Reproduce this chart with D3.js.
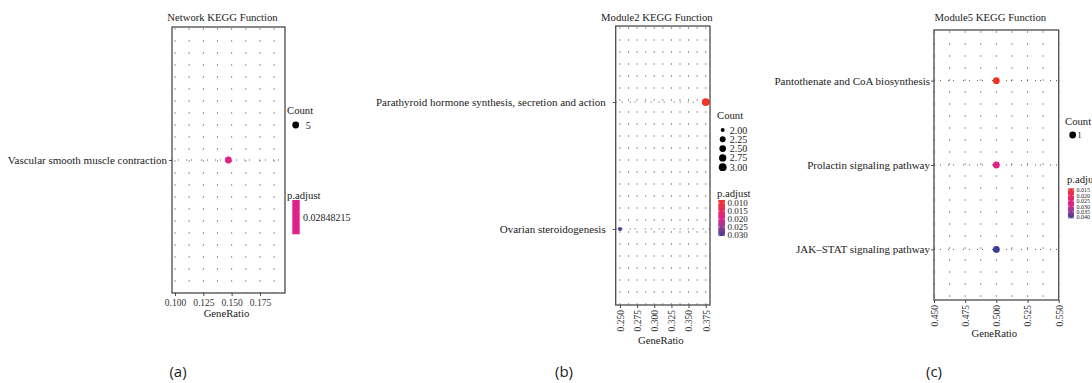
<!DOCTYPE html>
<html><head><meta charset="utf-8">
<script src="https://cdn.jsdelivr.net/npm/d3@7"></script>
<style>html,body{margin:0;padding:0;background:#fff;}svg{display:block;}</style>
</head><body>
<svg id="chart" width="1092" height="383"></svg>
<script>
// ---------- DATA ----------
const panelTitles = ["Network KEGG Function", "Module2 KEGG Function", "Module5 KEGG Function"];
const panelLetters = ["(a)", "(b)", "(c)"];

const aTerms = ["Vascular smooth muscle contraction"];
const aGeneRatio = [0.1471];
const aCount = [5];
const aPadjust = [0.02848215];
const aTicks = [0.100, 0.125, 0.150, 0.175];
const aCountLegend = [5];
const aPadjustLegend = [0.02848215];

const bTerms = ["Ovarian steroidogenesis", "Parathyroid hormone synthesis, secretion and action"];
const bGeneRatio = [0.250, 0.375];
const bCount = [2, 3];
const bPadjust = [0.0306, 0.0081];
const bTicks = [0.250, 0.275, 0.300, 0.325, 0.350, 0.375];
const bCountLegend = [2.00, 2.25, 2.50, 2.75, 3.00];
const bPadjustLegend = [0.010, 0.015, 0.020, 0.025, 0.030];

const cTerms = ["JAK\u2013STAT signaling pathway", "Prolactin signaling pathway", "Pantothenate and CoA biosynthesis"];
const cGeneRatio = [0.500, 0.500, 0.500];
const cCount = [1, 1, 1];
const cPadjust = [0.0409, 0.0262, 0.0134];
const cTicks = [0.450, 0.475, 0.500, 0.525, 0.550];
const cCountLegend = [1];
const cPadjustLegend = [0.015, 0.020, 0.025, 0.030, 0.035, 0.040];

// ---------- STYLE / LAYOUT ----------
const SERIF = "'Liberation Serif','Times New Roman',serif";
const SANS = "'Open Sans','Noto Sans',sans-serif";
const colLow = "#EE3524", colMid = "#E0218A", colHigh = "#3C3B97";
const svg = d3.select("#chart");

const panels = [
  { terms: aTerms, ratio: aGeneRatio, count: aCount, padj: aPadjust, ticks: aTicks,
    countLegend: aCountLegend, padjLegend: aPadjustLegend, title: panelTitles[0], letter: panelLetters[0],
    box: {x0: 172, x1: 285, y0: 27, y1: 293}, xdom: [0.09735, 0.1971], rotate: false,
    labelGap: 5, letterX: 178, xTitleY: 317,
    leg: {x: 287, countY: 114, dotY: 125, dotX: 295.7, padjY: 198.5, barX: 292.3, barW: 7.4, barY0: 200, barY1: 234.3, labFont: 10, labX: 303} },
  { terms: bTerms, ratio: bGeneRatio, count: bCount, padj: bPadjust, ticks: bTicks,
    countLegend: bCountLegend, padjLegend: bPadjustLegend, title: panelTitles[1], letter: panelLetters[1],
    box: {x0: 615.7, x1: 710, y0: 26, y1: 305}, xdom: [0.24375, 0.38125], rotate: true,
    labelGap: 10, letterX: 564, xTitleY: 344,
    leg: {x: 717, countY: 118.5, dotY: 130, dotX: 722.7, dotStep: 9.3, padjY: 196.5, barX: 718.3, barW: 6.7, barY0: 200, barY1: 236, labFont: 9, labX: 727.5} },
  { terms: cTerms, ratio: cGeneRatio, count: cCount, padj: cPadjust, ticks: cTicks,
    countLegend: cCountLegend, padjLegend: cPadjustLegend, title: panelTitles[2], letter: panelLetters[2],
    box: {x0: 934, x1: 1058.7, y0: 30, y1: 300}, xdom: [0.45, 0.55], rotate: true,
    labelGap: 4, letterX: 934, xTitleY: 337,
    leg: {x: 1065, countY: 125, dotY: 135, dotX: 1072.7, padjY: 182.5, barX: 1068, barW: 6, barY0: 188.3, barY1: 218.3, labFont: 6, labX: 1076.5} }
];

function colorScale(dom) {
  if (dom[0] === dom[1]) return () => colMid;
  return d3.scaleLinear().domain([dom[0], (dom[0] + dom[1]) / 2, dom[1]])
    .range([colLow, colMid, colHigh]).interpolate(d3.interpolateLab);
}
function sizeScale(dom) {
  if (dom[0] === dom[1]) return () => 3.4;
  const t = d3.scaleLinear().domain(dom).range([0, 1]);
  return v => 2.0 + 1.9 * Math.sqrt(t(v));
}

panels.forEach((p, pi) => {
  const g = svg.append("g");
  const B = p.box;
  const x = d3.scaleLinear().domain(p.xdom).range([B.x0, B.x1]);
  const y = d3.scalePoint().domain(p.terms).range([B.y1, B.y0]).padding(0.6);
  const pdom = d3.extent(p.padj);
  const col = colorScale(pdom);
  const cdom = d3.extent(p.count);
  const rad = sizeScale(cdom);

  // dotted vertical grid (major + minor every 0.0125)
  const gstep = 0.0125;
  const gridVals = d3.range(Math.ceil(p.xdom[0] / gstep - 1e-6), Math.floor(p.xdom[1] / gstep + 1e-6) + 1).map(k => k * gstep);
  g.append("g").selectAll("line").data(gridVals).join("line")
    .attr("x1", d => x(d)).attr("x2", d => x(d))
    .attr("y1", B.y0).attr("y2", B.y1)
    .attr("stroke", "#333").attr("stroke-width", 1)
    .attr("stroke-dasharray", "1,11").attr("stroke-dashoffset", -1.5);
  // dotted horizontal grid at categories
  g.append("g").selectAll("line").data(p.terms).join("line")
    .attr("x1", B.x0).attr("x2", B.x1)
    .attr("y1", d => y(d)).attr("y2", d => y(d))
    .attr("stroke", "#444").attr("stroke-width", 0.9)
    .attr("stroke-dasharray", "1,5,1,7,1,4,1,9");

  // points
  const rows = p.terms.map((t, i) => ({term: t, ratio: p.ratio[i], count: p.count[i], padj: p.padj[i]}));
  g.append("g").selectAll("circle").data(rows).join("circle")
    .attr("cx", d => x(d.ratio)).attr("cy", d => y(d.term))
    .attr("r", d => rad(d.count)).attr("fill", d => col(d.padj));

  // box
  g.append("rect").attr("x", B.x0).attr("y", B.y0)
    .attr("width", B.x1 - B.x0).attr("height", B.y1 - B.y0)
    .attr("fill", "none").attr("stroke", "#4a4a4a").attr("stroke-width", 1.3);

  // x axis
  const xAxis = d3.axisBottom(x).tickValues(p.ticks).tickFormat(d3.format(".3f")).tickSize(3).tickPadding(2);
  const ax = g.append("g").attr("transform", `translate(0,${B.y1})`).call(xAxis);
  ax.select(".domain").remove();
  ax.selectAll(".tick line").attr("stroke", "#4a4a4a");
  ax.selectAll(".tick text").attr("font-family", SERIF).attr("font-size", 9.5).attr("fill", "#333");
  if (p.rotate) {
    ax.selectAll(".tick text")
      .attr("transform", "rotate(-90)")
      .attr("text-anchor", "end").attr("x", -5).attr("y", 0).attr("dy", "0.35em");
  } else {
    ax.selectAll(".tick text").attr("dy", "0.85em");
  }

  // y axis
  const yAxis = d3.axisLeft(y).tickSize(3).tickPadding(p.labelGap - 3);
  const ay = g.append("g").attr("transform", `translate(${B.x0},0)`).call(yAxis);
  ay.select(".domain").remove();
  ay.selectAll(".tick line").attr("stroke", "#4a4a4a");
  ay.selectAll(".tick text").attr("font-family", SERIF).attr("font-size", 11).attr("fill", "#222");

  // titles
  g.append("text").attr("x", (B.x0 + B.x1) / 2 - 6).attr("y", 20.5)
    .attr("text-anchor", "middle").attr("font-family", SERIF).attr("font-size", 10.7).attr("fill", "#222")
    .text(p.title);
  g.append("text").attr("x", (B.x0 + B.x1) / 2 - 2).attr("y", p.xTitleY)
    .attr("text-anchor", "middle").attr("font-family", SERIF).attr("font-size", 10.7).attr("fill", "#222")
    .text("GeneRatio");
  g.append("text").attr("x", p.letterX).attr("y", 377)
    .attr("text-anchor", "middle").attr("font-family", SANS).attr("font-size", 15).attr("fill", "#222")
    .text(p.letter);

  // legend: Count
  const L = p.leg;
  g.append("text").attr("x", L.x).attr("y", L.countY).attr("font-family", SERIF).attr("font-size", 10.7).attr("fill", "#222").text("Count");
  const cl = g.append("g");
  p.countLegend.forEach((v, i) => {
    const cy = L.dotY + i * (L.dotStep || 0);
    cl.append("circle").attr("cx", L.dotX).attr("cy", cy).attr("r", rad(v)).attr("fill", "#000");
    cl.append("text").attr("x", L.dotX + (p.countLegend.length > 1 ? 7 : (pi === 0 ? 10 : 4.5))).attr("y", cy).attr("dy", "0.35em")
      .attr("font-family", SERIF).attr("font-size", p.countLegend.length > 1 ? 10 : (pi === 0 ? 10 : 9)).attr("fill", "#222")
      .text(p.countLegend.length > 1 ? d3.format(".2f")(v) : String(v));
  });

  // legend: p.adjust colourbar
  g.append("text").attr("x", L.x + (pi === 2 ? 2 : 0)).attr("y", L.padjY).attr("font-family", SERIF).attr("font-size", 10.7).attr("fill", "#222").text("p.adjust");
  const gid = "grad" + pi;
  const grad = svg.append("defs").append("linearGradient").attr("id", gid)
    .attr("x1", 0).attr("x2", 0).attr("y1", 0).attr("y2", 1);
  d3.range(0, 1.0001, 0.1).forEach(t => {
    grad.append("stop").attr("offset", t).attr("stop-color", col(pdom[0] + t * (pdom[1] - pdom[0])));
  });
  g.append("rect").attr("x", L.barX).attr("y", L.barY0).attr("width", L.barW).attr("height", L.barY1 - L.barY0)
    .attr("fill", `url(#${gid})`);
  const ly = pdom[0] === pdom[1] ? (() => (L.barY0 + L.barY1) / 2)
    : d3.scaleLinear().domain(pdom).range([L.barY0, L.barY1]);
  p.padjLegend.forEach(v => {
    const yy = ly(v);
    if (pdom[0] !== pdom[1]) {
      g.append("line").attr("x1", L.barX).attr("x2", L.barX + 1.5).attr("y1", yy).attr("y2", yy).attr("stroke", "#fff").attr("stroke-width", 0.6);
      g.append("line").attr("x1", L.barX + L.barW - 1.5).attr("x2", L.barX + L.barW).attr("y1", yy).attr("y2", yy).attr("stroke", "#fff").attr("stroke-width", 0.6);
    }
    g.append("text").attr("x", L.labX).attr("y", yy).attr("dy", "0.35em")
      .attr("font-family", SERIF).attr("font-size", L.labFont).attr("fill", "#222")
      .text(pdom[0] === pdom[1] ? String(v) : d3.format(".3f")(v));
  });
});
</script>
</body></html>
